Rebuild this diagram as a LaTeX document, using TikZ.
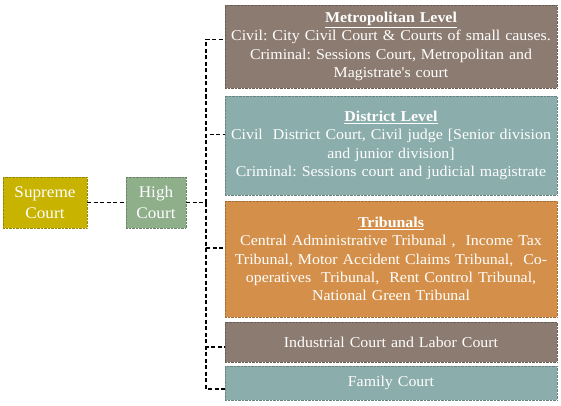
\documentclass[tikz,border=0pt]{standalone}
\usepackage{fontspec}
\setmainfont[FakeStretch=1.06]{Liberation Serif}
\usetikzlibrary{calc}
\definecolor{supc}{HTML}{C8B300}
\definecolor{highc}{HTML}{8FAF8B}
\definecolor{brownc}{HTML}{8C7B70}
\definecolor{tealc}{HTML}{8BADAB}
\definecolor{tribc}{HTML}{D4904A}
\tikzset{
  box/.style={rectangle, inner sep=0pt, text=white, align=center,
    font=\fontsize{15}{18.3}\selectfont\frenchspacing, draw=#1!75!black, densely dotted, line width=0.4pt, fill=#1},
  lbox/.style={box=#1, font=\fontsize{16.2}{20.5}\selectfont},
  rbox/.style={box=#1, minimum width=332pt, text width=330pt},
  conn/.style={draw=black, line width=1.4pt, dash pattern=on 4pt off 2.5pt}
}
\begin{document}
\begin{tikzpicture}[x=1pt,y=1pt]
\useasboundingbox (0,0) rectangle (561,405);
\fill[white] (0,0) rectangle (561,405);
\node[lbox=supc, minimum width=84pt, minimum height=51pt] (sup) at (45,202.5) {Supreme\\Court};
\node[lbox=highc, minimum width=60pt, minimum height=51pt] (high) at (156,202.5) {High\\Court};
\node[rbox=brownc, minimum height=83pt] (metro) at (391,358.5) {\underline{\textbf{Metropolitan Level}}\\Civil: City Civil Court \& Courts of small causes.\\Criminal: Sessions Court, Metropolitan and\\Magistrate{\addfontfeature{Mapping=}'}s court};
\node[rbox=tealc, minimum height=99pt] (dist) at (391,259.5) {\underline{\textbf{District Level}}\\Civil\ \ District Court, Civil judge [Senior division\\and junior division]\\Criminal: Sessions court and judicial magistrate};
\node[rbox=tribc, minimum height=116pt] (trib) at (391,146) {\underline{\textbf{Tribunals}}\\Central Administrative Tribunal ,\ \ Income Tax\\Tribunal, Motor Accident Claims Tribunal,\ \ Co-\\operatives\ \ Tribunal,\ \ Rent Control Tribunal,\\National Green Tribunal};
\node[rbox=brownc, minimum height=40pt] (ind) at (391,63) {Industrial Court and Labor Court};
\node[rbox=tealc, minimum height=34pt] (fam) at (391,22) {Family Court};
\coordinate (hj) at (206,202.5);
\draw[conn] (sup.east) -- (high.west);
\draw[conn] (high.east) -- (hj);
\draw[conn] (hj) |- ([yshift=7pt]metro.west);
\draw[conn] (hj) |- ([yshift=11pt]dist.west);
\draw[conn] (hj) |- ([yshift=11pt]trib.west);
\draw[conn] (hj) |- ([yshift=-5pt]ind.west);
\draw[conn] (hj) |- ([yshift=-6pt]fam.west);
\end{tikzpicture}
\end{document}
